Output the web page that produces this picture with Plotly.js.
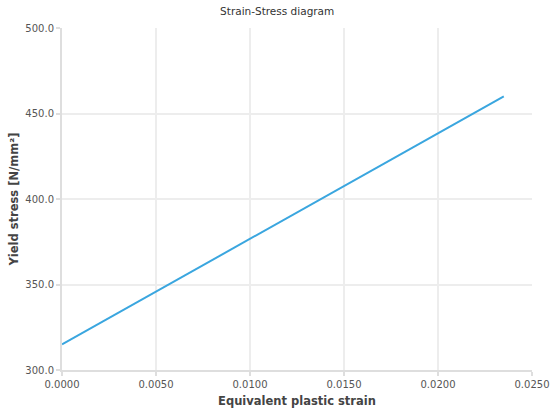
<!DOCTYPE html>
<html>
<head>
<meta charset="utf-8">
<script src="https://cdn.plot.ly/plotly-3.0.1.min.js"></script>
<style>
  html, body { margin: 0; padding: 0; background: #fff; }
  #chart { width: 550px; height: 416px; }
</style>
</head>
<body>
<div id="chart"></div>
<script>
// Equivalent plastic strain vs. yield stress (linear hardening)
const plasticStrain = [0.0, 0.0235];
const yieldStress = [315.0, 460.0];

const chartTitle = 'Strain-Stress diagram';
const xTitle = 'Equivalent plastic strain';
const yTitle = 'Yield stress [N/mm²]';

const font = 'DejaVu Sans, Verdana, sans-serif';

const trace = {
  x: plasticStrain,
  y: yieldStress,
  type: 'scatter',
  mode: 'lines',
  line: { color: '#3aa6df', width: 2 },
  hoverinfo: 'skip'
};

const axisBase = {
  showgrid: true,
  gridcolor: '#ededed',
  gridwidth: 2,
  zeroline: false,
  showline: true,
  linecolor: '#dedede',
  linewidth: 2,
  ticks: 'outside',
  ticklen: 4,
  tickwidth: 2,
  tickcolor: '#dedede',
  tickfont: { family: font, size: 10, color: '#555' }
};

const layout = {
  width: 550,
  height: 416,
  margin: { l: 62, r: 18, t: 28, b: 46 },
  paper_bgcolor: '#fff',
  plot_bgcolor: '#fff',
  showlegend: false,
  title: {
    text: chartTitle,
    font: { family: font, size: 10.5, color: '#333' },
    x: 0.504, xanchor: 'center',
    y: 0.972, yanchor: 'middle'
  },
  xaxis: Object.assign({}, axisBase, {
    range: [0, 0.025],
    dtick: 0.005,
    tickformat: '.4f',
    title: { text: '<b>' + xTitle + '</b>', font: { family: font, size: 11.5, color: '#444' }, standoff: 8 }
  }),
  yaxis: Object.assign({}, axisBase, {
    range: [300, 500],
    dtick: 50,
    tickformat: '.1f',
    title: { text: '<b>' + yTitle + '</b>', font: { family: font, size: 11.5, color: '#444' }, standoff: 4 }
  })
};

Plotly.newPlot('chart', [trace], layout, { displayModeBar: false, staticPlot: true });
</script>
</body>
</html>
